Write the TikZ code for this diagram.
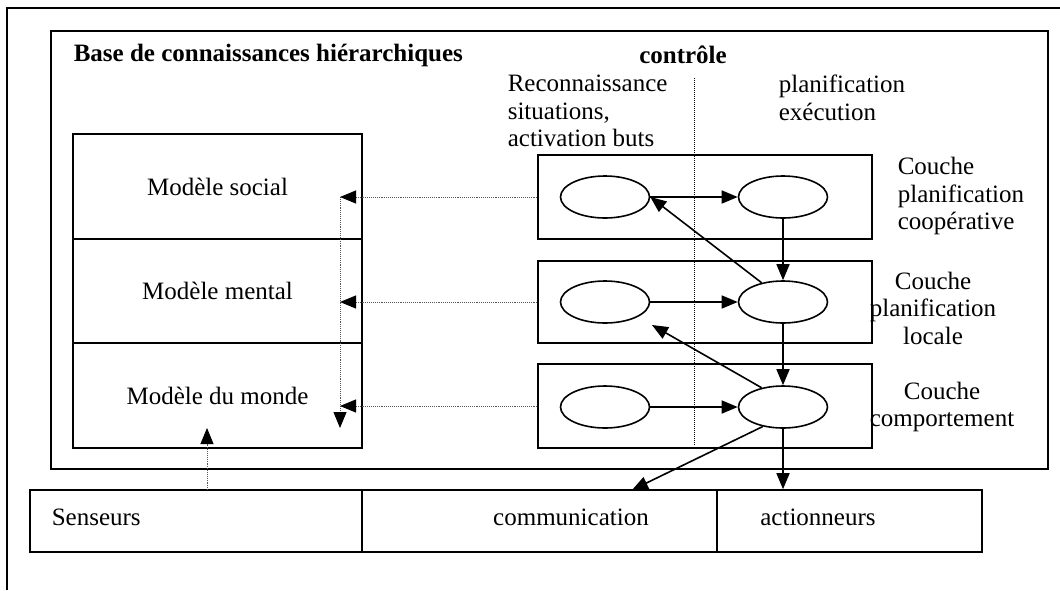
\documentclass[tikz,border=0pt]{standalone}
\usepackage{fontspec}
\setmainfont{Liberation Serif}
\usetikzlibrary{arrows.meta,shapes.geometric}

\begin{document}
\begin{tikzpicture}[x=1pt,y=1pt,line width=1.6pt]
              \tikzstyle{every node}+=[inner sep=0pt,font=\fontsize{25}{27.5}\selectfont]
              \tikzstyle{modele}=[draw,black,minimum width=289pt,minimum height=105pt]
              \tikzstyle{couche}=[draw,black,minimum width=334pt,minimum height=84pt]
              \tikzstyle{etat}=[draw,black,ellipse,minimum width=89pt,minimum height=42pt]
              \tikzstyle{cellule}=[draw,black,minimum height=62pt]
              \tikzstyle{fleche}=[black,-{Triangle[length=16pt,width=13pt]}]
              \tikzstyle{pointille}=[densely dotted,line width=0.9pt,black!65]
              \tikzstyle{fpointille}=[pointille,-{Triangle[length=16pt,width=13pt,black]}]
              \useasboundingbox (0,0) rectangle (1060,-590);
              \draw [black] (1060,-8) -- (7,-8) -- (7,-590);
              \draw [black] (51,-31) rectangle (1048,-469);
              \node [anchor=west,font=\fontsize{25}{27.5}\selectfont\bfseries] (base) at (73,-55) {Base de connaissances hiérarchiques};
              \node [font=\fontsize{25}{27.5}\selectfont\bfseries] (controle) at (683,-55) {contrôle};
              \node [anchor=west,align=left] (reco) at (507,-111) {Reconnaissance\\situations,\\activation buts};
              \node [anchor=west,align=left] (plan) at (778,-98) {planification\\exécution};
              \coordinate (sep1) at (694,-78);
              \coordinate (sep2) at (694,-446);
              \draw [densely dotted,line width=1pt,black] (sep1) -- (sep2);
              \node [modele] (social) at (217.5,-186.5) {Modèle social};
              \node [modele] (mental) at (217.5,-291) {Modèle mental};
              \node [modele] (monde) at (217.5,-395.5) {Modèle du monde};
              \node [couche] (coop) at (705,-197) {};
              \node [couche,minimum height=82pt] (locale) at (705,-302) {};
              \node [couche] (comp) at (705,-406) {};
              \node [etat] (coopA) at (605,-197) {};
              \node [etat] (coopB) at (783,-197) {};
              \node [etat] (locA) at (605,-302) {};
              \node [etat] (locB) at (783,-302) {};
              \node [etat] (compA) at (605,-407) {};
              \node [etat] (compB) at (783,-407) {};
              \node [anchor=west,align=left] (lcoop) at (897,-196) {Couche\\planification\\coopérative};
              \node [align=center] (lloc) at (933,-308) {Couche\\planification\\locale};
              \node [align=center] (lcomp) at (942,-407) {Couche\\comportement};
              \node [cellule,minimum width=332pt] (sens) at (196,-521) {};
              \node [cellule,minimum width=355pt] (comm) at (539.5,-521) {};
              \node [cellule,minimum width=265pt] (act) at (849.5,-521) {};
              \node [anchor=west] (tsens) at (51,-517) {Senseurs};
              \node (tcomm) at (571,-517) {communication};
              \node (tact) at (818,-517) {actionneurs};
              \draw [fleche] (coopA.east) -- (coopB.west);
              \draw [fleche] (locA.east) -- (locB.west);
              \draw [fleche] (compA.east) -- (compB.west);
              \draw [fleche] (coopB.south) -- (locB.north);
              \draw [fleche] (locB.south) -- (compB.north);
              \draw [fleche] (locB.138) -- (coopA.east);
              \coordinate (sousloc) at (652,-325);
              \draw [fleche] (compB.138) -- (sousloc);
              \coordinate (versComm) at (632,-490);
              \draw [fleche] (compB.-136) -- (versComm);
              \draw [fleche] (compB.south) -- (compB.south |- act.north);
              \coordinate (vhaut) at (340,-197);
              \coordinate (vbas) at (340,-428);
              \draw [fpointille] (vhaut) -- (vbas);
              \draw [fpointille] (coop.west) -- (coop.west -| vhaut);
              \draw [fpointille] (locale.west) -- (locale.west -| vhaut);
              \draw [fpointille] (comp.west) -- (comp.west -| vhaut);
              \coordinate (capt) at (207,-490);
              \coordinate (capthaut) at (207,-428);
              \draw [fpointille] (capt) -- (capthaut);
            \end{tikzpicture}
\end{document}
